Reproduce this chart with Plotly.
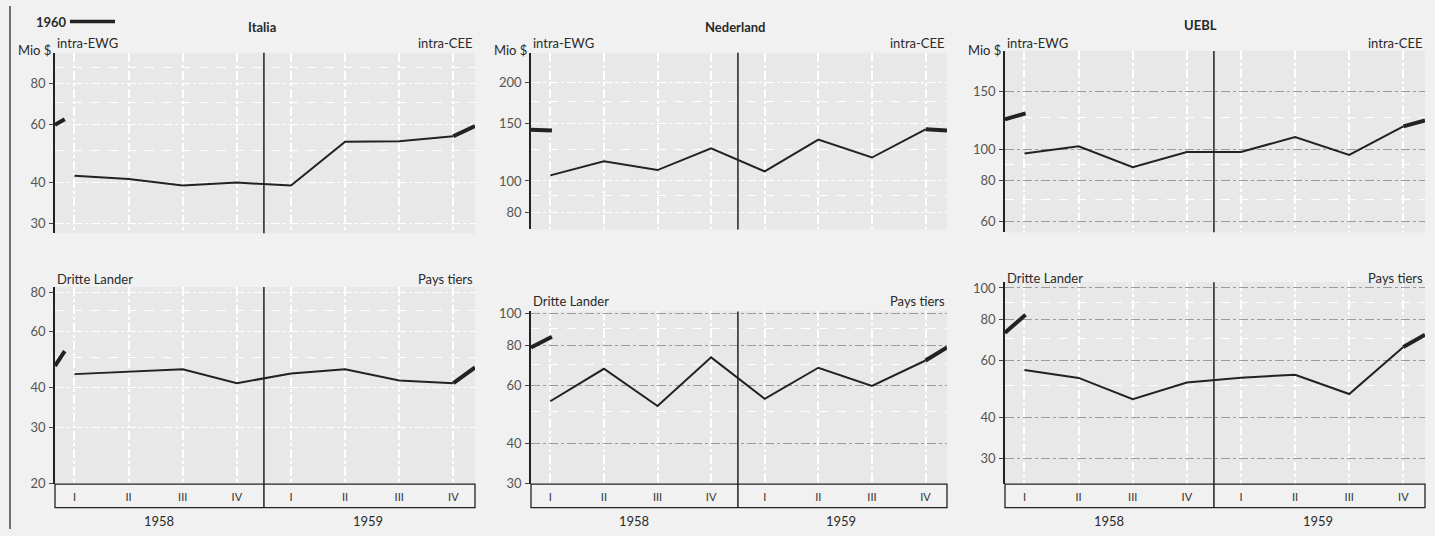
import plotly.graph_objects as go

W, H = 1435, 536

quarters = ["I", "II", "III", "IV", "I", "II", "III", "IV"]
quarter_pos = [0, 1, 2, 3, 4, 5, 6, 7]
years = ["1958", "1959"]
year_pos = [1.57, 5.42]

# intra-EWG / intra-CEE, Mio $, 1958 I .. 1959 IV
italia_intra = [42, 41, 39.2, 40, 39.2, 53.3, 53.5, 55.4]
nederland_intra = [104, 115, 108, 126, 107, 134, 118, 144]
uebl_intra = [97, 102, 88, 98, 98, 109, 96, 117.5]

# Dritte Lander / Pays tiers
italia_tiers = [44.2, 44.9, 45.8, 41.4, 44.4, 45.8, 42.2, 41.4]
nederland_tiers = [53.8, 67.7, 52, 73.4, 54.7, 68.2, 60, 71.8]
uebl_tiers = [56, 52.9, 45.5, 51.2, 53, 54.1, 47.2, 65.9]

# 1960 (thick line): left stub start/end, value at right edge
italia_intra_1960 = [60, 62.4, 59.5]
nederland_intra_1960 = [143.7, 142.8, 142.8]
uebl_intra_1960 = [123.6, 128.9, 122.5]
italia_tiers_1960 = [46.9, 52.2, 46.4]
nederland_tiers_1960 = [78.7, 84.9, 78.7]
uebl_tiers_1960 = [72.9, 82.7, 71.8]

# y ticks per panel
italia_intra_ticks = [30, 40, 60, 80]
nederland_intra_ticks = [80, 100, 150, 200]
uebl_intra_ticks = [60, 80, 100, 150]
italia_tiers_ticks = [20, 30, 40, 60, 80]
nederland_tiers_ticks = [30, 40, 60, 80, 100]
uebl_tiers_ticks = [30, 40, 60, 80, 100]

X_RANGE = [-0.36, 7.4]
DARK = "#222222"
FONT = "Lato, Open Sans, sans-serif"


def px(x):
    return x / W


def py(y):
    return 1 - y / H


def label(text, x, y, xanchor="center", size=13, bold=False, xref="paper"):
    return dict(text=text, x=x, y=y, xref=xref, yref="paper", xanchor=xanchor,
                yanchor="middle", showarrow=False,
                font=dict(size=size, color="#2a2a2a", family=FONT,
                          weight="bold" if bold else "normal"))


cols = [
    dict(name="Italia", x0=55, x1=475, stub=-0.18, title_x=262, title_y=22, mio_x=53),
    dict(name="Nederland", x0=531, x1=947, stub=0.03, title_x=735, title_y=22, mio_x=529),
    dict(name="UEBL", x0=1005, x1=1425, stub=0.02, title_x=1200, title_y=19, mio_x=1003),
]

panels = [
    # top row
    dict(col=0, top=True, y=italia_intra, y60=italia_intra_1960, ticks=italia_intra_ticks,
         minor=[50, 70, 90], dom=(48, 233), rng=[1.4473, 1.9979], grid="white"),
    dict(col=1, top=True, y=nederland_intra, y60=nederland_intra_1960, ticks=nederland_intra_ticks,
         minor=[90, 125, 175], dom=(48, 229), rng=[1.8512, 2.3931], grid="white"),
    dict(col=2, top=True, y=uebl_intra, y60=uebl_intra_1960, ticks=uebl_intra_ticks,
         minor=[70, 90, 125], dom=(46, 232), rng=[1.7438, 2.3024], grid="#9c9c9c"),
    # bottom row
    dict(col=0, top=False, y=italia_tiers, y60=italia_tiers_1960, ticks=italia_tiers_ticks,
         minor=[50, 70], dom=(288, 490), rng=[1.300, 1.919], grid="white", lbl_y=280),
    dict(col=1, top=False, y=nederland_tiers, y60=nederland_tiers_1960, ticks=nederland_tiers_ticks,
         minor=[50, 70, 90], dom=(313, 490), rng=[1.476, 2.007], grid="#9c9c9c", lbl_y=302),
    dict(col=2, top=False, y=uebl_tiers, y60=uebl_tiers_1960, ticks=uebl_tiers_ticks,
         minor=[50, 70, 90], dom=(283, 490), rng=[1.397, 2.018], grid="#9c9c9c", lbl_y=279),
]

fig = go.Figure()
layout = {}
shapes = []
annotations = []
STRIP_BOTTOM = 514

for k, p in enumerate(panels, start=1):
    c = cols[p["col"]]
    sfx = "" if k == 1 else str(k)
    xa, ya = "x" + sfx, "y" + sfx
    # main 1958-1959 line
    fig.add_trace(go.Scatter(
        x=quarter_pos, y=p["y"], xaxis=xa, yaxis=ya, mode="lines",
        line=dict(color=DARK, width=2), showlegend=False, hoverinfo="skip"))
    # 1960 thick stubs
    a, b, e = p["y60"]
    fig.add_trace(go.Scatter(
        x=[X_RANGE[0], c["stub"], None, quarter_pos[-1], X_RANGE[1]],
        y=[a, b, None, p["y"][-1], e], xaxis=xa, yaxis=ya, mode="lines",
        line=dict(color=DARK, width=4), showlegend=False, hoverinfo="skip",
        connectgaps=False))

    layout["xaxis" + sfx] = dict(
        domain=[px(c["x0"]), px(c["x1"])], anchor=ya, range=X_RANGE,
        tickvals=quarter_pos, ticktext=quarters,
        showticklabels=not p["top"], ticks="", showline=False, zeroline=False,
        showgrid=True, gridcolor="white", gridwidth=1.5, griddash="dashdot",
        tickfont=dict(size=11, color="#333", family=FONT), ticklabelstandoff=5,
        fixedrange=True)
    layout["yaxis" + sfx] = dict(
        domain=[py(p["dom"][1]), py(p["dom"][0])], anchor=xa, type="log",
        range=p["rng"], tickvals=p["ticks"], ticktext=[str(t) for t in p["ticks"]],
        ticks="outside", ticklen=4, tickcolor="#444", showline=True,
        linecolor=DARK, linewidth=1.5, showgrid=True, gridcolor=p["grid"],
        gridwidth=1.2, griddash="dashdot", zeroline=False,
        minor=dict(tickvals=p["minor"], showgrid=True, gridcolor="white",
                   griddash="dash", gridwidth=1, ticks=""),
        tickfont=dict(size=13, color="#555", family=FONT), ticklabelstandoff=1,
        fixedrange=True)

    if p["top"]:
        shapes.append(dict(type="line", xref=xa, yref=f"{ya} domain", x0=3.5, x1=3.5,
                           y0=0, y1=1, line=dict(color=DARK, width=1.5)))
        annotations += [
            label(c["name"], px(c["title_x"]), py(c["title_y"]), size=13, bold=True),
            label("intra-EWG", px(c["x0"]), py(38), xanchor="left"),
            label("intra-CEE", px(c["x1"]), py(38), xanchor="right"),
            label("Mio $", px(c["mio_x"]), py(45), xanchor="right"),
        ]
    else:
        shapes.append(dict(type="line", xref=xa, yref="paper", x0=3.5, x1=3.5,
                           y0=py(STRIP_BOTTOM), y1=py(p["dom"][0]),
                           line=dict(color=DARK, width=1.5)))
        shapes.append(dict(type="rect", xref=f"{xa} domain", yref="paper", x0=0, x1=1,
                           y0=py(STRIP_BOTTOM), y1=py(p["dom"][1]),
                           line=dict(color=DARK, width=1.3), layer="above"))
        annotations += [
            label("Dritte Lander", px(c["x0"]), py(p["lbl_y"]), xanchor="left"),
            label("Pays tiers", px(c["x1"]), py(p["lbl_y"]), xanchor="right"),
        ]
        for yr, xp in zip(years, year_pos):
            annotations.append(label(yr, xp, py(528), xref=xa))

# legend "1960 ----"
annotations.append(label("1960", px(34), py(16), xanchor="left", bold=True))
shapes.append(dict(type="line", xref="paper", yref="paper", x0=px(70), x1=px(115),
                   y0=py(16), y1=py(16), line=dict(color=DARK, width=3.5)))
# left frame line of the page
shapes.append(dict(type="line", xref="paper", yref="paper", x0=px(10), x1=px(10),
                   y0=0, y1=1, line=dict(color="#444", width=1.5)))

fig.update_layout(
    width=W, height=H,
    margin=dict(l=0, r=0, t=0, b=0),
    paper_bgcolor="#f1f1f1",
    plot_bgcolor="#e8e8e8",
    font=dict(family=FONT, color="#333"),
    shapes=shapes,
    annotations=annotations,
    showlegend=False,
    **layout,
)

fig.write_html("out.html", config={"displayModeBar": False},
               post_script="document.body.style.margin='0';")
